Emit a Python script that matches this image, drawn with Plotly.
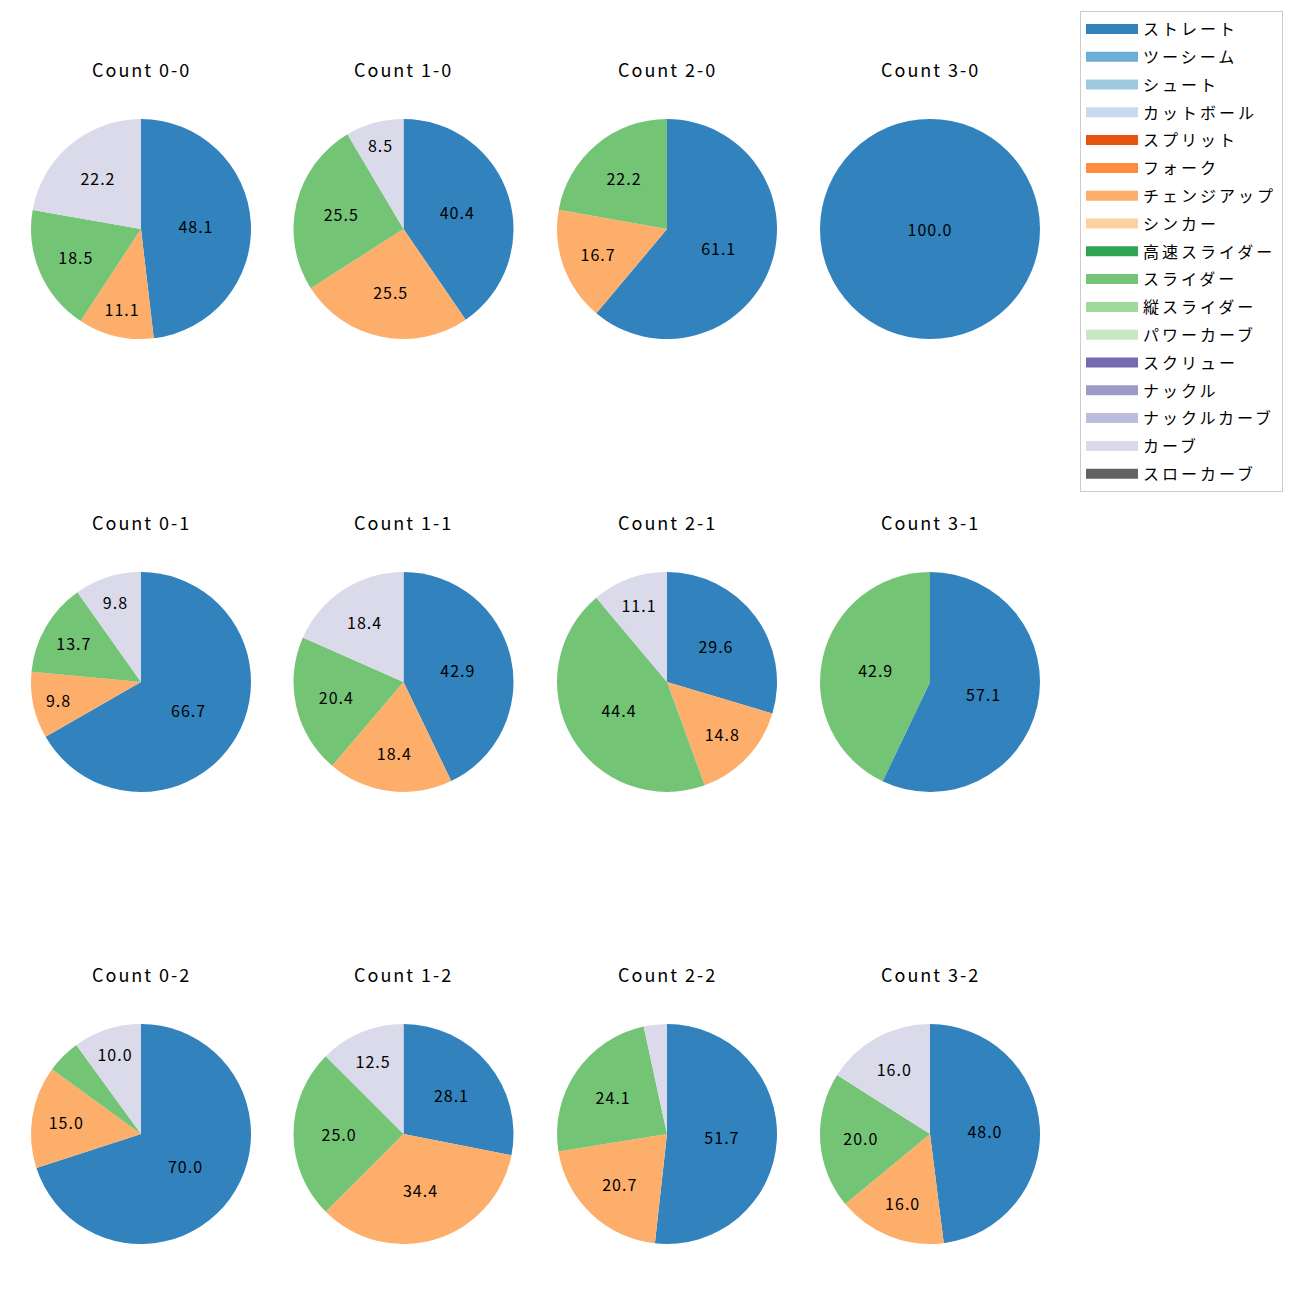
import plotly.graph_objects as go

pitch_types = ["ストレート", "ツーシーム", "シュート", "カットボール", "スプリット", "フォーク",
               "チェンジアップ", "シンカー", "高速スライダー", "スライダー", "縦スライダー",
               "パワーカーブ", "スクリュー", "ナックル", "ナックルカーブ", "カーブ", "スローカーブ"]
colors = ["#3182bd", "#6baed6", "#9ecae1", "#c6dbef", "#e6550d", "#fd8d3c", "#fdae6b", "#fdd0a2",
          "#31a354", "#74c476", "#a1d99b", "#c7e9c0", "#756bb1", "#9e9ac8", "#bcbddc", "#dadaeb", "#636363"]

# counts in grid order (rows: strikes 0..2, cols: balls 0..3)
count_titles = ["Count 0-0", "Count 1-0", "Count 2-0", "Count 3-0",
                "Count 0-1", "Count 1-1", "Count 2-1", "Count 3-1",
                "Count 0-2", "Count 1-2", "Count 2-2", "Count 3-2"]

# shares per count: ストレート, チェンジアップ, スライダー, カーブ
straight = [48.1, 40.4, 61.1, 100.0, 66.7, 42.9, 29.6, 57.1, 70.0, 28.1, 51.7, 48.0]
changeup = [11.1, 25.5, 16.7, 0.0, 9.8, 18.4, 14.8, 0.0, 15.0, 34.4, 20.7, 16.0]
slider = [18.5, 25.5, 22.2, 0.0, 13.7, 20.4, 44.4, 42.9, 5.0, 25.0, 24.1, 20.0]
curve = [22.2, 8.5, 0.0, 0.0, 9.8, 18.4, 11.1, 0.0, 10.0, 12.5, 3.4, 16.0]

OFF = 8  # page body margin
col_cx = [141 - OFF, 403.5 - OFF, 667 - OFF, 930 - OFF]
row_cy = [229 - OFF, 682 - OFF, 1134 - OFF]
R = 110
W = H = 1300
FONT = "Noto Sans CJK JP"


def spaced(s, px):
    return f'<span style="letter-spacing:{px}px">{s}</span>'


fig = go.Figure()
used = ["ストレート", "チェンジアップ", "スライダー", "カーブ"]
annotations = []
for i, title in enumerate(count_titles):
    r, c = divmod(i, 4)
    cx, cy = col_cx[c], row_cy[r]
    vals = [straight[i], changeup[i], slider[i], curve[i]]
    labs, vs, cols, txt = [], [], [], []
    for name, v in zip(used, vals):
        if v > 0:
            labs.append(name)
            vs.append(v)
            cols.append(colors[pitch_types.index(name)])
            txt.append(spaced(f"{v:.1f}", 1) if v > 5.0 else "")
    fig.add_trace(go.Pie(
        labels=labs, values=vs, sort=False, direction="clockwise", rotation=0,
        marker=dict(colors=cols, line=dict(width=0)),
        text=txt, textinfo="text", textposition="inside",
        insidetextorientation="horizontal",
        textfont=dict(size=16, color="black", family=FONT),
        domain=dict(x=[(cx - R) / W, (cx + R) / W], y=[1 - (cy + R) / H, 1 - (cy - R) / H]),
        showlegend=False, hoverinfo="label+percent",
    ))
    annotations.append(dict(text=spaced(title, 2), x=cx / W, y=1 - (cy - 160) / H, xref="paper", yref="paper",
                            showarrow=False, xanchor="center", yanchor="middle",
                            font=dict(size=18, color="black", family=FONT)))

for name, col in zip(pitch_types, colors):
    fig.add_trace(go.Scatter(x=[None], y=[None], mode="lines", name=spaced(name, 3),
                             line=dict(color=col, width=13), legendgroup=name))

fig.update_layout(
    width=W, height=H, margin=dict(l=0, r=0, t=0, b=0),
    paper_bgcolor="white", plot_bgcolor="white",
    xaxis=dict(visible=False), yaxis=dict(visible=False),
    annotations=annotations,
    legend=dict(x=(1283 - OFF) / W, y=1 - (11 - OFF) / H, xanchor="right", yanchor="top",
                bordercolor="#cccccc", borderwidth=1, bgcolor="white",
                font=dict(size=16, family=FONT, color="black"),
                traceorder="grouped", tracegroupgap=4, itemwidth=52),
)
fig.write_html("out.html")
